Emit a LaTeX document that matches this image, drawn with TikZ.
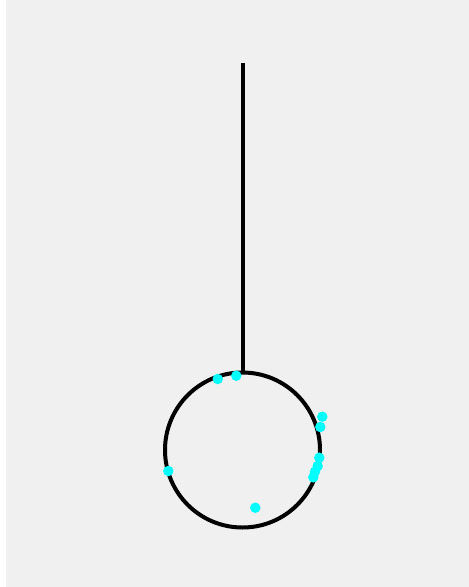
\documentclass[tikz,border=0pt]{standalone}
\definecolor{bgwhite}{HTML}{FFFFFF}
\definecolor{bggray}{HTML}{F0F0F0}
\definecolor{dotcyan}{HTML}{00FFFF}
\tikzset{
  rope/.style={line width=4pt, black},
  dot/.style={circle, fill=dotcyan, inner sep=0pt, minimum size=10.5pt},
}
\begin{document}
\begin{tikzpicture}[x=1pt,y=-1pt]
\fill[bgwhite] (0,0) rectangle (469,587);
\fill[bggray] (6,0) rectangle (469,587);
\useasboundingbox (0,0) rectangle (469,587);
\coordinate (top) at (243,63);
\coordinate (c) at (242.5,450);
\coordinate (attach) at (243,372);
\draw[rope] (top) -- (attach);
\draw[rope] (c) circle[radius=77.5];
\node[dot] (d1) at (217.7,379) {};
\node[dot] (d2) at (236.3,375.7) {};
\node[dot] (d3) at (322.3,416.7) {};
\node[dot] (d4) at (320.3,427) {};
\node[dot] (d5) at (319.3,457.7) {};
\node[dot] (d6) at (317.7,466) {};
\node[dot] (d7) at (315,471.7) {};
\node[dot] (d8) at (313.3,477.3) {};
\node[dot] (d9) at (168.3,471) {};
\node[dot] (d10) at (255.3,507.7) {};
\end{tikzpicture}
\end{document}
